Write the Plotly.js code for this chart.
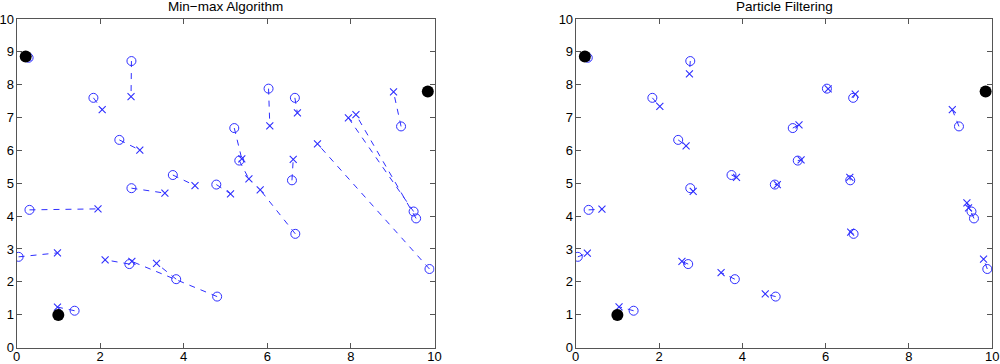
<!DOCTYPE html>
<html>
<head>
<meta charset="utf-8">
<script src="https://cdn.plot.ly/plotly-3.0.1.min.js"></script>
<style>
html,body{margin:0;padding:0;background:#fff;}
#chart{width:1000px;height:364px;}
</style>
</head>
<body>
<div id="chart"></div>
<script>
// True node positions (circles), shared by both panels
const trueX = [0.29, 2.75, 1.84, 2.46, 3.74, 2.75, 4.78, 0.31, 0.05, 2.70, 3.82, 4.80, 1.39, 6.03, 6.66, 5.21, 5.33, 6.59, 6.67, 9.20, 9.50, 9.56, 9.88];
const trueY = [8.82, 8.72, 7.60, 6.32, 5.25, 4.85, 4.96, 4.19, 2.76, 2.54, 2.08, 1.55, 1.12, 7.88, 7.60, 6.68, 5.69, 5.09, 3.46, 6.73, 4.14, 3.93, 2.39];

// Min-max estimates (x markers, left panel)
const minmaxX = [0.27, 2.74, 2.05, 2.95, 4.27, 3.55, 5.12, 1.95, 0.98, 2.12, 3.35, 2.76, 0.98, 6.06, 6.72, 5.39, 5.56, 6.62, 5.83, 9.02, 7.94, 8.12, 7.20];
const minmaxY = [8.84, 7.64, 7.24, 6.01, 4.93, 4.70, 4.68, 4.22, 2.88, 2.67, 2.56, 2.62, 1.23, 6.75, 7.14, 5.74, 5.13, 5.73, 4.80, 7.78, 6.99, 7.09, 6.20];

// Particle filtering estimates (x markers, right panel)
const pfX = [0.26, 2.73, 2.02, 2.65, 3.86, 2.82, 4.84, 0.63, 0.28, 2.55, 3.49, 4.55, 1.04, 6.06, 6.71, 5.36, 5.41, 6.58, 6.60, 9.04, 9.43, 9.39, 9.79];
const pfY = [8.84, 8.33, 7.34, 6.14, 5.18, 4.75, 4.96, 4.21, 2.87, 2.62, 2.28, 1.63, 1.24, 7.87, 7.71, 6.78, 5.71, 5.18, 3.51, 7.24, 4.25, 4.40, 2.69];

// Anchor nodes (black dots)
const anchorX = [0.22, 1.00, 9.84];
const anchorY = [8.86, 0.99, 7.79];

const titles = ["Min\u2212max Algorithm", "Particle Filtering"];
const xTicks = [0, 2, 4, 6, 8, 10];
const yTicks = [0, 1, 2, 3, 4, 5, 6, 7, 8, 9, 10];

const BLUE = "#2f2fff";
const FONT = "Liberation Sans, Arial, sans-serif";

function segments(ax, ay, bx, by) {
  const xs = [], ys = [];
  for (let i = 0; i < ax.length; i++) {
    xs.push(ax[i], bx[i], null);
    ys.push(ay[i], by[i], null);
  }
  return {xs, ys};
}

function panelTraces(estX, estY, xa, ya) {
  const seg = segments(trueX, trueY, estX, estY);
  return [
    {x: seg.xs, y: seg.ys, xaxis: xa, yaxis: ya, mode: "lines", type: "scatter",
     line: {color: BLUE, width: 1, dash: "6px,6px"}, hoverinfo: "skip", connectgaps: false},
    {x: trueX, y: trueY, xaxis: xa, yaxis: ya, mode: "markers", type: "scatter",
     marker: {symbol: "circle-open", size: 9, color: BLUE, line: {width: 1, color: BLUE}}},
    {x: estX, y: estY, xaxis: xa, yaxis: ya, mode: "markers", type: "scatter",
     marker: {symbol: "x-thin-open", size: 7, color: BLUE, line: {width: 1.1, color: BLUE}}},
    {x: anchorX, y: anchorY, xaxis: xa, yaxis: ya, mode: "markers", type: "scatter",
     marker: {symbol: "circle", size: 12, color: "#000000", line: {width: 0}}}
  ];
}

const data = [].concat(
  panelTraces(minmaxX, minmaxY, "x", "y"),
  panelTraces(pfX, pfY, "x2", "y2")
);

function xAxis(domain, anchor) {
  return {domain: domain, anchor: anchor, range: [0, 10], tickvals: xTicks, ticktext: xTicks.map(String),
    ticks: "inside", ticklen: 5, tickcolor: "#555", showline: true, linecolor: "#555", linewidth: 1,
    mirror: "ticks", showgrid: false, zeroline: false, fixedrange: true, ticklabelstandoff: -3,
    tickfont: {family: FONT, size: 13, color: "#000"}};
}
function yAxis(domain, anchor) {
  return {domain: domain, anchor: anchor, range: [0, 10], tickvals: yTicks, ticktext: yTicks.map(String),
    ticks: "inside", ticklen: 5, tickcolor: "#555", showline: true, linecolor: "#555", linewidth: 1,
    mirror: "ticks", showgrid: false, zeroline: false, fixedrange: true, ticklabelstandoff: -1,
    tickfont: {family: FONT, size: 13, color: "#000"}};
}

const yDom = [0.0453, 0.9478];
const layout = {
  width: 1000, height: 364,
  margin: {l: 0, r: 0, t: 0, b: 0, pad: 0},
  paper_bgcolor: "#fff", plot_bgcolor: "#fff",
  showlegend: false,
  font: {family: FONT, size: 13, color: "#000"},
  xaxis: xAxis([0.0165, 0.4345], "y"),
  yaxis: yAxis(yDom, "x"),
  xaxis2: xAxis([0.5757, 0.9923], "y2"),
  yaxis2: yAxis(yDom, "x2"),
  annotations: [
    {text: titles[0], xref: "paper", yref: "paper", x: 0.2255, y: 0.981, xanchor: "center", yanchor: "middle",
     showarrow: false, font: {family: FONT, size: 13.5, color: "#000"}},
    {text: titles[1], xref: "paper", yref: "paper", x: 0.784, y: 0.981, xanchor: "center", yanchor: "middle",
     showarrow: false, font: {family: FONT, size: 13.5, color: "#000"}}
  ]
};

Plotly.newPlot("chart", data, layout, {staticPlot: true, displayModeBar: false});
</script>
</body>
</html>
